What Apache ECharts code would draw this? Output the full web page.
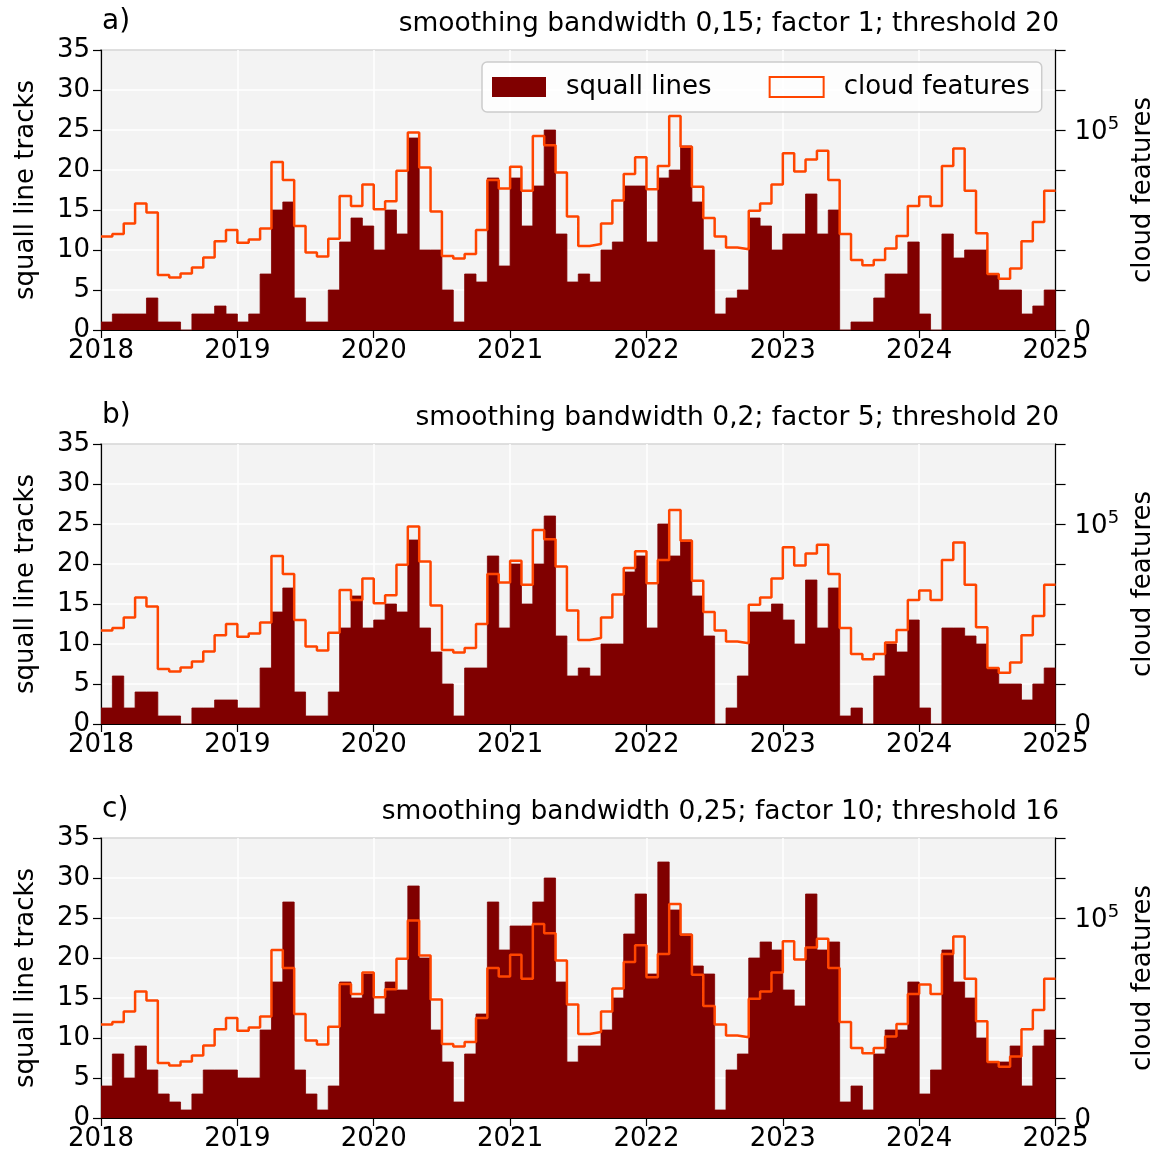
<!DOCTYPE html>
<html><head><meta charset="utf-8">
<script src="https://cdn.jsdelivr.net/npm/echarts@6/dist/echarts.min.js"></script>
<style>html,body{margin:0;padding:0;background:#fff}#c{width:1164px;height:1160px}</style>
</head><body><div id="c"></div>
<script>
const yearLabels = ['2018','2019','2020','2021','2022','2023','2024','2025'];
const panelLetters = ['a)','b)','c)'];
const panelTitles = [
  'smoothing bandwidth 0,15; factor 1; threshold 20',
  'smoothing bandwidth 0,2; factor 5; threshold 20',
  'smoothing bandwidth 0,25; factor 10; threshold 16'
];
// monthly squall line track counts, Jan 2018 .. Dec 2024
const squallA = [1,2,2,2,4,1,1,0,2,2,3,2, 1,2,7,15,16,4,1,1,5,11,14,13, 10,15,12,24,10,10,5,1,7,6,19,8,
  19,13,18,25,12,6,7,6,10,11,18,18, 11,19,20,23,16,10,2,4,5,14,13,10, 12,12,17,12,15,0,1,1,4,7,7,11,
  2,0,12,9,10,10,7,5,5,2,3,5];
const squallB = [2,6,2,4,4,1,1,0,2,2,3,3, 2,2,7,14,17,4,1,1,4,12,16,12, 13,15,14,23,12,9,5,1,7,7,21,12,
  20,15,20,26,11,6,7,6,10,10,19,21, 12,25,21,23,16,11,0,2,6,14,14,15, 13,10,18,12,17,1,2,0,6,10,9,13,
  2,0,12,12,11,10,7,5,5,3,5,7];
const squallC = [4,8,5,9,6,3,2,1,3,6,6,6, 5,5,11,17,27,6,3,1,4,17,15,18, 13,17,16,29,20,11,7,2,8,13,27,21,
  24,24,27,30,17,7,9,9,11,15,23,28, 18,32,26,23,19,18,1,6,8,20,22,21, 16,14,28,21,22,2,4,1,8,11,11,17,
  3,6,21,17,15,10,7,7,9,4,9,11];
// monthly cloud feature counts
const cloudFeatures = [46700,48000,53300,63300,58800,27500,26300,28300,31300,36300,44400,50000,
  43600,45300,50800,84000,75000,52000,38800,36700,45600,67000,62000,72800,
  60400,64400,79600,98800,81200,59200,37000,35800,38000,50000,75000,70800,
  81600,69600,97000,92400,78800,56800,42000,43000,53200,64800,78000,86400,
  70400,82000,107000,91600,71600,56000,46800,41200,40400,59600,63200,72800,
  88400,79200,85200,89600,75000,48000,35000,32400,35000,40800,47000,62000,
  66800,62000,82000,90800,69600,48400,28000,25600,30800,44400,54000,69600];

const squallSets = [squallA, squallB, squallC];
const F = 'DejaVu Sans';
const FS = 26;
const tops = [50, 444, 838];
const H = 280;
const nMonths = cloudFeatures.length;
const stepData = arr => arr.map((v, i) => [i, v]).concat([[arr.length, arr[arr.length - 1]]]);

const grids = [], xAxes = [], yAxes = [], series = [], titles = [];
tops.forEach((top, k) => {
  grids.push({left: 101, right: 105, top: top, height: H, show: true,
    backgroundColor: '#f3f3f3', borderColor: '#000', borderWidth: 1.2});
  xAxes.push({type: 'value', gridIndex: k, min: 0, max: nMonths, interval: 12,
    axisLine: {show: true, onZero: false, lineStyle: {color: '#000', width: 1.2}},
    axisTick: {show: true, length: 8, lineStyle: {color: '#000', width: 1.2}},
    axisLabel: {fontFamily: F, fontSize: FS, color: '#000', margin: 8,
      formatter: v => yearLabels[Math.round(v / 12)]},
    splitLine: {show: true, lineStyle: {color: '#fff', width: 1.5}}
  });
  yAxes.push({type: 'value', gridIndex: k, position: 'left', min: 0, max: 35, interval: 5,
    name: 'squall line tracks', nameLocation: 'middle', nameGap: 62,
    nameTextStyle: {fontFamily: F, fontSize: FS, color: '#000'},
    axisLine: {show: true, lineStyle: {color: '#000', width: 1.2}},
    axisTick: {show: true, length: 8, lineStyle: {color: '#000', width: 1.2}},
    axisLabel: {fontFamily: F, fontSize: FS, color: '#000', margin: 11},
    splitLine: {show: true, lineStyle: {color: '#fff', width: 1.5}}
  });
  yAxes.push({type: 'value', gridIndex: k, position: 'right', min: 0, max: 140000, interval: 20000,
    name: 'cloud features', nameLocation: 'middle', nameGap: 74,
    nameTextStyle: {fontFamily: F, fontSize: FS, color: '#000'},
    axisLine: {show: true, lineStyle: {color: '#000', width: 1.2}},
    axisTick: {show: true, length: 10, lineStyle: {color: '#000', width: 1.2}},
    axisLabel: {fontFamily: F, fontSize: FS, color: '#000', margin: 19,
      formatter: v => v === 0 ? '{b|0}' : (v === 100000 ? '{b|10}{s|5}' : ''),
      rich: {
        b: {fontFamily: F, fontSize: FS, color: '#000', lineHeight: 30, verticalAlign: 'bottom'},
        s: {fontFamily: F, fontSize: 18, color: '#000', lineHeight: 16, verticalAlign: 'top'}
      }},
    splitLine: {show: false}
  });
  series.push({
    type: 'line', name: 'squall lines', xAxisIndex: k, yAxisIndex: 2 * k,
    step: 'end', showSymbol: false, symbol: 'none',
    data: stepData(squallSets[k]),
    lineStyle: {width: 0.8, color: '#800000'},
    areaStyle: {color: '#800000', opacity: 1},
    itemStyle: {color: '#800000'},
    z: 2
  });
  series.push({
    type: 'line', name: 'cloud features', xAxisIndex: k, yAxisIndex: 2 * k + 1,
    step: 'end', showSymbol: false, symbol: 'none',
    data: stepData(cloudFeatures),
    lineStyle: {color: '#ff4500', width: 2.5},
    itemStyle: {color: '#ff4500'},
    z: 3
  });
  titles.push({text: panelLetters[k], left: 102, top: top - 42, padding: 0,
    textStyle: {fontFamily: F, fontSize: 28, fontWeight: 'normal', color: '#000'}});
  titles.push({text: panelTitles[k], right: 105, top: top - 39, padding: 0,
    textStyle: {fontFamily: F, fontSize: 26.5, fontWeight: 'normal', color: '#000'}});
});

const chart = echarts.init(document.getElementById('c'), null, {renderer: 'canvas'});
chart.setOption({
  animation: false,
  backgroundColor: '#fff',
  title: titles,
  grid: grids,
  xAxis: xAxes,
  yAxis: yAxes,
  legend: {
    left: 482, top: 62, orient: 'horizontal',
    padding: [12, 12, 12, 10], itemGap: 57, itemWidth: 54, itemHeight: 20,
    backgroundColor: 'rgba(255,255,255,0.8)', borderColor: '#cccccc', borderWidth: 1.5, borderRadius: 5,
    textStyle: {fontFamily: F, fontSize: FS, color: '#000', padding: [0, 0, 0, 15]},
    data: [
      {name: 'squall lines', icon: 'rect', itemStyle: {color: '#800000', borderWidth: 0}},
      {name: 'cloud features', icon: 'rect', itemStyle: {color: 'rgba(0,0,0,0)', borderColor: '#ff4500', borderWidth: 2}}
    ]
  },
  series: series
});
</script></body></html>
